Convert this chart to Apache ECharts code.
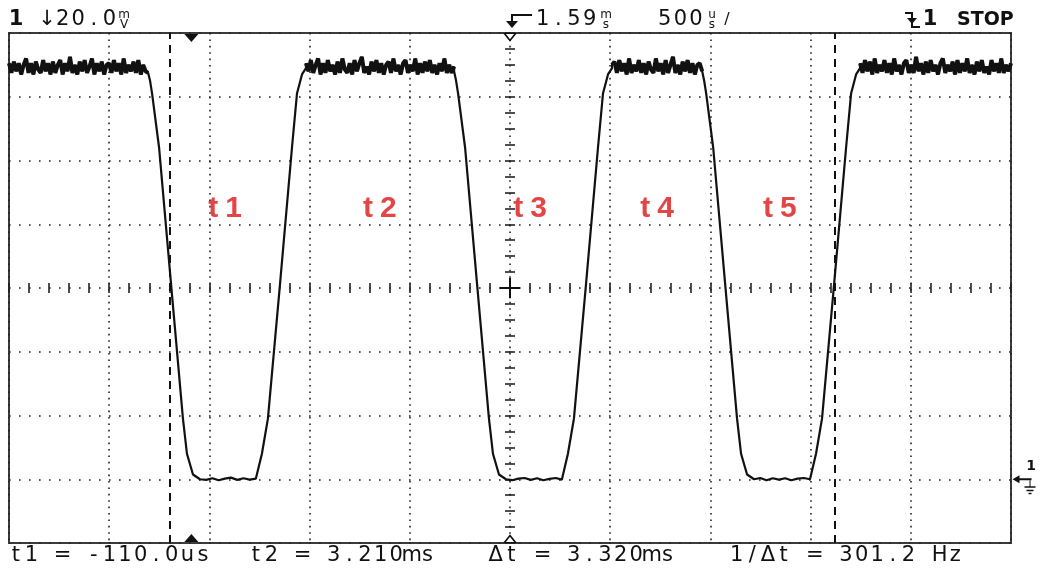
<!DOCTYPE html>
<html>
<head>
<meta charset="utf-8">
<title>Scope capture</title>
<script src="https://cdn.jsdelivr.net/npm/echarts@6/dist/echarts.min.js"></script>
<style>
  html, body { margin: 0; padding: 0; background: #fff; }
  #main { width: 1041px; height: 572px; }
</style>
</head>
<body>
<div id="main"></div>
<script>
// Time base 500 us/div over 10 divisions, centred on the 1.59 ms delay
const timeMin = -0.91;   // ms
const timeMax = 4.09;
// 20 mV/div over 8 divisions, ground marker one division above the bottom
const levelMin = -20;    // mV
const levelMax = 140;
const highLevel = 129;
const lowLevel = 0;

const triggerTime = 0;
const delayTime = 1.59;
const cursorT1 = -0.110;
const cursorT2 = 3.210;

// Edges, [ms, mV]
const fall1 = [[-0.216, 128], [-0.206, 125], [-0.196, 121], [-0.161, 104], [-0.101, 61], [-0.042, 19], [-0.022, 8], [0.008, 1.5], [0.043, 0]];
const rise1 = [[0.322, 0], [0.352, 8], [0.382, 19], [0.442, 61], [0.502, 104], [0.527, 121], [0.552, 127], [0.572, 129]];
const fall2 = [[1.311, 128], [1.321, 125], [1.331, 121], [1.366, 104], [1.426, 61], [1.485, 19], [1.505, 8], [1.535, 1.5], [1.570, 0]];
const rise2 = [[1.849, 0], [1.879, 8], [1.909, 19], [1.969, 61], [2.029, 104], [2.054, 121], [2.079, 127], [2.099, 129]];
const fall3 = [[2.549, 128], [2.559, 125], [2.569, 121], [2.604, 104], [2.664, 61], [2.723, 19], [2.743, 8], [2.773, 1.5], [2.808, 0]];
const rise3 = [[3.087, 0], [3.117, 8], [3.147, 19], [3.207, 61], [3.267, 104], [3.292, 121], [3.317, 127], [3.337, 129]];

// Noise on the high plateaus, mV around highLevel, in sample order
const highNoise1 = [1.5,-1.5,2,-1,1.5,-2,1,3,-1.5,1.5,-2,2,-0.5,-1.5,2.5,-1,1.5,-2,2,-1.5,1,2.5,-2,1.5,-1,3.5,-1.5,1,-2,2,-1,2.5,-1.5,0.5,3,-2,1.5,-1,2,-2,1,1.5,-1.5,2.5,-1,1.5,-2,3,-1.5,1,-1,2,-1.5,2.5,-2,1,-1,-1.5];
const highNoise2 = [1.5,-1,2.5,-1.5,1,3,-2,1.5,-1.5,2.5,-1,1,-2,2,-1.5,3,-0.5,-1.5,1.5,-2,2.5,-1,1.5,3.5,-1.5,0.5,-2,2,-1,2.5,-1.5,1.5,-2,1,2,-1.5,3,-1,1,-2,1.5,2.5,-1.5,1,-1,3,-2,1.5,-1.5,2,-1,2.5,-1.5,1,-2,1.5,-1,3,-1.5,1,-1.5,0.5];
const highNoise3 = [1,2,-1.5,2.5,-1,1.5,-2,3,-1.5,1,-1,2.5,-1.5,1.5,-2,2,-0.5,-1.5,3,-1,1.5,-2,2.5,-1.5,1,3.5,-1.5,1,-2,2,-1,2.5,-1.5,1.5,-2,1,1.5,-1];
const highNoise4 = [1.5,-1.5,2.5,-1,2,-2,3,-1.5,1,-1,2.5,-1.5,1.5,-2,3,-1,1,-2,1.5,2.5,-1.5,1,-1.5,3.5,-1,1.5,-2,2,-1.5,2.5,-1,1,-2,1.5,3,-1.5,1,-1,2,-2,2.5,-1.5,1.5,-1,3,-1.5,1,-2,2,-1,2.5,-1.5,0.5,-2,2.5,-1,1.5,-1.5,3,-1.5,1,-1,1.5];
// Noise on the low plateaus
const lowNoise1 = [0.4,-0.2,0.3,-0.3,0.2,0.5,-0.2,0.3,-0.1,0.2];
const lowNoise2 = [0.3,-0.3,0.2,0.4,-0.2,0.3,-0.3,0.1,0.4,-0.1];
const lowNoise3 = [0.2,0.4,-0.3,0.3,-0.1,0.3,-0.3,0.2,0.4,0];

// Interval labels drawn in red
const intervalNames = ['t1', 't2', 't3', 't4', 't5'];
const intervalTimes = [0.168, 0.941, 1.69, 2.324, 2.937];
const intervalLevel = 85;

// Readouts
const bottomReadouts = ['t1 = -110.0us', 't2 = 3.210ms', '\u0394t = 3.320ms', '1/\u0394t = 301.2 Hz'];

// plateau samples spread evenly between two edge times
function plateau(t0, t1, level, noise) {
    return noise.map(function (n, i) {
        return [t0 + (t1 - t0) * i / (noise.length - 1), level + n];
    });
}
function first(edge) { return edge[0][0]; }
function last(edge) { return edge[edge.length - 1][0]; }

const high1 = plateau(timeMin, first(fall1), highLevel, highNoise1);
const high2 = plateau(last(rise1), first(fall2), highLevel, highNoise2);
const high3 = plateau(last(rise2), first(fall3), highLevel, highNoise3);
const high4 = plateau(last(rise3), timeMax, highLevel, highNoise4);

const trace = [].concat(
    high1, fall1,
    plateau(last(fall1), first(rise1), lowLevel, lowNoise1), rise1,
    high2, fall2,
    plateau(last(fall2), first(rise2), lowLevel, lowNoise2), rise2,
    high3, fall3,
    plateau(last(fall3), first(rise3), lowLevel, lowNoise3), rise3,
    high4
);
const gap = [['-', '-']];
const highBand = [].concat(high1, gap, high2, gap, high3, gap, high4);

const ink = '#111';
const cell = 15.6;          // readout character pitch
const textFont = '21px "DejaVu Sans"';

// one text element per character, monospaced like the scope's font
function monoText(str, x0, y, font) {
    const out = [];
    for (let i = 0; i < str.length; i++) {
        const ch = str[i];
        if (ch === ' ') continue;
        out.push(textAt(ch, x0 + cell * i + cell / 2, y, font || textFont, 'center'));
    }
    return out;
}
function textAt(txt, x, y, font, align) {
    return {
        type: 'text', x: x, y: y, silent: true,
        style: { text: txt, font: font, fill: ink, align: align, textAlign: align, verticalAlign: 'middle', textVerticalAlign: 'middle' }
    };
}
// small stacked unit glyph, e.g. m over V
function unitGlyph(top, bottom, x) {
    return [textAt(top, x, 15, '12px "DejaVu Sans"', 'center'), textAt(bottom, x, 24.5, '12px "DejaVu Sans"', 'center')];
}

const topY = 20;
const bottomY = 556;
const bottomStarts = [8, 248, 488, 729];

let graphics = [];
graphics.push(textAt('1', 16, topY, 'bold 21px "DejaVu Sans"', 'center'));
graphics = graphics.concat(monoText('\u219320.0', 8 + 2 * cell, topY));
graphics = graphics.concat(unitGlyph('m', 'V', 124));
// delay arrow
graphics.push({ type: 'polyline', silent: true, shape: { points: [[532, 15], [512, 15], [512, 26]] }, style: { stroke: ink, lineWidth: 2, fill: null } });
graphics.push({ type: 'polygon', silent: true, shape: { points: [[506, 21], [518, 21], [512, 28]] }, style: { fill: ink } });
graphics = graphics.concat(monoText('1.59', 535, topY));
graphics = graphics.concat(unitGlyph('m', 's', 606));
graphics = graphics.concat(monoText('500', 657, topY));
graphics = graphics.concat(unitGlyph('u', 's', 712));
graphics.push(textAt('/', 727, topY, '16px "DejaVu Sans"', 'center'));
// falling-edge trigger glyph
graphics.push({ type: 'polyline', silent: true, shape: { points: [[905, 13], [912, 13], [912, 27], [920, 27]] }, style: { stroke: ink, lineWidth: 2, fill: null } });
graphics.push({ type: 'polygon', silent: true, shape: { points: [[907, 18], [917, 18], [912, 24]] }, style: { fill: ink } });
graphics.push(textAt('1', 930, topY, 'bold 21px "DejaVu Sans"', 'center'));
graphics.push(textAt('STOP', 957, topY, 'bold 19px "DejaVu Sans"', 'left'));
bottomReadouts.forEach(function (s, i) {
    graphics = graphics.concat(monoText(s, bottomStarts[i], bottomY));
});

const dotted = function (dash) {
    return { show: true, lineStyle: { color: '#222', width: 1.6, type: dash } };
};
const hidden = { show: false };

function centreAxis(inside, isX) {
    return {
        type: 'value', gridIndex: 0,
        min: isX ? -5 : -4, max: isX ? 5 : 4, interval: isX ? 0.2 : 0.25,
        position: isX ? 'bottom' : 'left',
        axisLine: { show: true, onZero: true, onZeroAxisIndex: 2, lineStyle: { color: 'rgba(0,0,0,0)', width: 0 } },
        axisTick: { show: true, inside: inside, length: 5, lineStyle: { color: '#222', width: 1.6 } },
        axisLabel: hidden, splitLine: hidden
    };
}

const red = '#dc1616';

const chart = echarts.init(document.getElementById('main'));
chart.setOption({
    backgroundColor: '#fff',
    animation: false,
    grid: { left: 9, right: 30, top: 33, bottom: 29, show: true, borderColor: '#3c3c3c', borderWidth: 2, backgroundColor: '#fff' },
    xAxis: [
        { type: 'value', min: 0, max: 10, interval: 1, axisLine: { show: false, onZero: false }, axisTick: hidden, axisLabel: hidden, splitLine: dotted([1.6, 4.8]) },
        { type: 'value', min: timeMin, max: timeMax, show: false, axisLine: { onZero: false } },
        centreAxis(false, true),
        centreAxis(true, true)
    ],
    yAxis: [
        { type: 'value', min: 0, max: 8, interval: 1, axisLine: { show: false, onZero: false }, axisTick: hidden, axisLabel: hidden, splitLine: dotted([1.6, 8.4]) },
        { type: 'value', min: levelMin, max: levelMax, show: false, axisLine: { onZero: false } },
        centreAxis(false, false),
        centreAxis(true, false)
    ],
    graphic: graphics,
    series: [
        {
            name: 'crossH', type: 'line', xAxisIndex: 2, yAxisIndex: 2, silent: true,
            data: [[-0.1, 0], [0.1, 0]], showSymbol: false, lineStyle: { color: ink, width: 2 }
        },
        {
            name: 'crossV', type: 'line', xAxisIndex: 2, yAxisIndex: 2, silent: true,
            data: [[0, -0.16], [0, 0.16]], showSymbol: false, lineStyle: { color: ink, width: 2 }
        },
        {
            name: 'ch1', type: 'line', xAxisIndex: 1, yAxisIndex: 1, silent: true,
            data: trace, showSymbol: false, clip: false,
            lineStyle: { color: ink, width: 2.2 },
            markLine: {
                silent: true, symbol: 'none', animation: false,
                label: { show: false },
                lineStyle: { color: ink, width: 2, type: [8, 6] },
                data: [{ xAxis: cursorT1 }, { xAxis: cursorT2 }]
            },
            markPoint: {
                silent: true, animation: false, label: { show: false },
                data: [
                    { coord: [triggerTime, levelMax], symbol: 'triangle', symbolRotate: 180, symbolSize: [14, 8], symbolOffset: [0, 5], itemStyle: { color: ink } },
                    { coord: [triggerTime, levelMin], symbol: 'triangle', symbolSize: [14, 8], symbolOffset: [0, -5], itemStyle: { color: ink } },
                    { coord: [delayTime, levelMax], symbol: 'triangle', symbolRotate: 180, symbolSize: [11, 7], symbolOffset: [0, 4], itemStyle: { color: '#fff', borderColor: ink, borderWidth: 1.5 } },
                    { coord: [delayTime, levelMin], symbol: 'triangle', symbolSize: [11, 7], symbolOffset: [0, -4], itemStyle: { color: '#fff', borderColor: ink, borderWidth: 1.5 } },
                    { coord: [timeMax, lowLevel], symbol: 'path://M0,4L7,0L7,3L19,3L19,5L7,5L7,8Z', symbolSize: [19, 8], symbolOffset: [11, 0], itemStyle: { color: ink },
                      label: { show: true, formatter: '1', offset: [9, -13], color: ink, fontSize: 14, fontWeight: 'bold', fontFamily: 'DejaVu Sans' } },
                    { coord: [timeMax, lowLevel], symbol: 'path://M5,0L6,0L6,6L11,6L11,7.5L0,7.5L0,6L5,6Z M2,9.5L9,9.5L9,11L2,11Z M4,12.5L7,12.5L7,14L4,14Z', symbolSize: [11, 14], symbolOffset: [19, 8], itemStyle: { color: ink } }
                ]
            }
        },
        {
            name: 'ch1High', type: 'line', xAxisIndex: 1, yAxisIndex: 1, silent: true,
            data: highBand, showSymbol: false, connectNulls: false,
            lineStyle: { color: ink, width: 4 }
        },
        {
            name: 'intervals', type: 'scatter', xAxisIndex: 1, yAxisIndex: 1, silent: true,
            symbolSize: 0,
            data: intervalTimes.map(function (t, i) { return { name: intervalNames[i], value: [t, intervalLevel] }; }),
            label: {
                show: true, position: 'inside',
                formatter: function (p) { return '{a|' + p.name.charAt(0) + '}{b|' + p.name.slice(1) + '}'; },
                rich: {
                    a: { color: red, fontSize: 30, fontWeight: 'bold', fontFamily: 'Liberation Sans', padding: [0, 7, 0, 0] },
                    b: { color: red, fontSize: 30, fontWeight: 'bold', fontFamily: 'Liberation Sans' }
                }
            }
        }
    ]
});
</script>
</body>
</html>
